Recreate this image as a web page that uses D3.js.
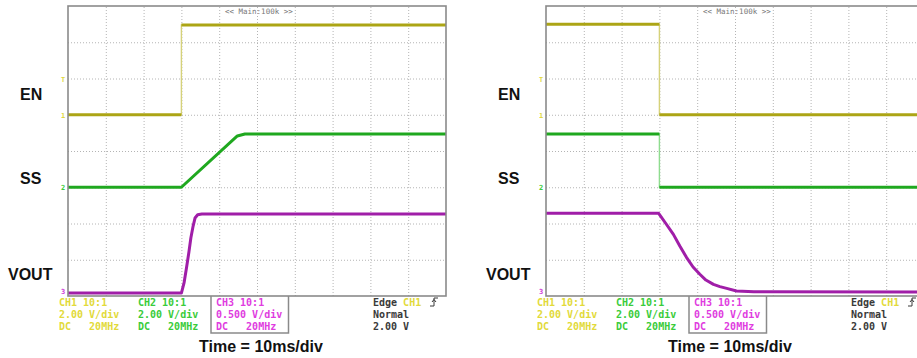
<!DOCTYPE html>
<html>
<head>
<meta charset="utf-8">
<script src="https://cdn.jsdelivr.net/npm/d3@7"></script>
<style>
  body { margin: 0; background: #fff; }
  svg { display: block; }
</style>
</head>
<body>
<script>
// time in ms (10 ms/div), values in volts
const enOnT = [0, 30, 30, 100]
const enOnV = [0, 0, 4.95, 4.95]
const ssOnT = [0, 30, 44.8, 46.8, 100]
const ssOnV = [0, 0, 2.83, 2.94, 2.94]
const voutOnT = [0, 30, 30.7, 31.35, 32, 32.5, 33.1, 33.6, 34.3, 35.4, 100]
const voutOnV = [0.04, 0.04, 0.18, 0.39, 0.61, 0.8, 0.965, 1.075, 1.12, 1.13, 1.13]

const enOffT = [0, 30, 30, 100]
const enOffV = [5, 5, 0, 0]
const ssOffT = [0, 30, 30, 100]
const ssOffV = [2.94, 2.94, 0, 0]
const voutOffT = [0, 29.8, 31.7, 33.7, 35.4, 37.2, 38.9, 40.7, 42.3, 44.3, 46, 47.8, 50.4, 55, 100]
const voutOffV = [1.14, 1.14, 1.0, 0.85, 0.69, 0.53, 0.40, 0.30, 0.22, 0.16, 0.13, 0.105, 0.07, 0.06, 0.055]

const chTitles = ["CH1 10:1", "CH2 10:1", "CH3 10:1"]
const chScales = ["2.00 V/div", "2.00 V/div", "0.500 V/div"]
const chCoupling = ["DC   20MHz", "DC   20MHz", "DC   20MHz"]
const trigLines = ["Edge", "Normal", "2.00 V"]
const signalNames = ["EN", "SS", "VOUT"]
const timeLabel = "Time = 10ms/div"
const headerLabel = "<< Main:100k >>"

const width = 917, height = 358
const plotW = 378, plotH = 290, plotTop = 6

const svg = d3.select("body").append("svg")
    .attr("width", width)
    .attr("height", height)

const panels = [
    { x0: 68, timeX: 261, en: [enOnT, enOnV], ss: [ssOnT, ssOnV], vout: [voutOnT, voutOnV] },
    { x0: 546, timeX: 730, en: [enOffT, enOffV], ss: [ssOffT, ssOffV], vout: [voutOffT, voutOffV] }
]

const mono = "'DejaVu Sans Mono', monospace"
const sans = "'Liberation Sans', Arial, sans-serif"

const drawPanel = (p) => {
    const x = d3.scaleLinear().domain([0, 100]).range([p.x0, p.x0 + plotW])
    const div = d3.scaleLinear().domain([0, 8]).range([plotTop + plotH, plotTop])
    // each channel: ground offset (divs) and volts/div
    const yEN = d3.scaleLinear().domain([-10, 6]).range([plotTop + plotH, plotTop])
    const ySS = d3.scaleLinear().domain([-6, 10]).range([plotTop + plotH, plotTop])
    const yVO = d3.scaleLinear().domain([0, 4]).range([plotTop + plotH, plotTop])

    const g = svg.append('g')

    // dotted grid
    g.append('g')
        .attr('transform', `translate(0,${plotTop + plotH})`)
        .call(d3.axisBottom(x).tickValues(d3.range(10, 100, 10)).tickSize(-plotH).tickFormat(""))
        .call(g => g.select('.domain').remove())
        .call(g => g.selectAll('line').attr('stroke', '#b4b4b4').attr('stroke-dasharray', '1,2'))
    g.append('g')
        .attr('transform', `translate(${p.x0},0)`)
        .call(d3.axisLeft(div).tickValues(d3.range(1, 8)).tickSize(-plotW).tickFormat(""))
        .call(g => g.select('.domain').remove())
        .call(g => g.selectAll('line').attr('stroke', '#b4b4b4').attr('stroke-dasharray', '1,2'))

    // header
    g.append('text')
        .attr('x', p.x0 + 157).attr('y', 14)
        .attr('font-family', mono).attr('font-size', 7.5)
        .attr('fill', '#777')
        .text(headerLabel)

    const traces = [
        { d: p.en, y: yEN, color: '#aca515', light: '#d6d27a' },
        { d: p.ss, y: ySS, color: '#1fa81f', light: '#8fdc8f' },
        { d: p.vout, y: yVO, color: '#a01ea8', light: '#c77fcc' }
    ]

    traces.forEach(tr => {
        const pts = tr.d[0].map((t, i) => ({ t: t, v: tr.d[1][i] }))
        const line = d3.line().x(d => x(d.t)).y(d => tr.y(d.v))
        g.append('path')
            .attr('d', line(pts))
            .attr('fill', 'none')
            .attr('stroke', tr.light)
            .attr('stroke-width', 1.4)
        // thick runs, broken at vertical steps
        const runs = [[pts[0]]]
        for (let i = 1; i < pts.length; i++) {
            if (pts[i].t === pts[i - 1].t) runs.push([pts[i]])
            else runs[runs.length - 1].push(pts[i])
        }
        runs.filter(r => r.length > 1).forEach(r => {
            g.append('path')
                .attr('d', line(r))
                .attr('fill', 'none')
                .attr('stroke', tr.color)
                .attr('stroke-width', 3)
                .attr('stroke-linejoin', 'round')
        })
    })

    // border
    g.append('rect')
        .attr('x', p.x0).attr('y', plotTop)
        .attr('width', plotW).attr('height', plotH)
        .attr('fill', 'none')
        .attr('stroke', '#8a8a8a')
        .attr('stroke-width', 1.6)

    // ground / trigger markers on the left edge
    const markers = [
        { y: yEN(2), txt: 'T', color: '#e0d840' },
        { y: yEN(0), txt: '1', color: '#e0d840' },
        { y: ySS(0), txt: '2', color: '#3ccc3c' },
        { y: yVO(0), txt: '3', color: '#d040d8' }
    ]
    markers.forEach(m => {
        g.append('text')
            .attr('x', p.x0 - 7).attr('y', Math.min(m.y + 3, 293.5))
            .attr('font-family', mono).attr('font-size', 7)
            .attr('font-weight', 'bold')
            .attr('fill', m.color)
            .text(m.txt)
    })

    // signal names
    const nameY = [100, 184, 280]
    const nameX = [-48, -48, -60]
    signalNames.forEach((n, i) => {
        g.append('text')
            .attr('x', p.x0 + nameX[i]).attr('y', nameY[i])
            .attr('font-family', sans).attr('font-weight', 'bold')
            .attr('font-size', 16)
            .attr('fill', '#111')
            .text(n)
    })

    // channel readouts
    const chX = [-9, 70, 148]
    const chColor = ['#e2da3a', '#3acc3a', '#e03ce0']
    chTitles.forEach((c, i) => {
        [c, chScales[i], chCoupling[i]].forEach((s, j) => {
            g.append('text')
                .attr('x', p.x0 + chX[i]).attr('y', 306 + j * 12)
                .attr('font-family', mono).attr('font-size', 10)
                .attr('font-weight', 'bold')
                .attr('fill', chColor[i])
                .style('white-space', 'pre')
                .text(s)
        })
    })
    g.append('path')
        .attr('d', `M${p.x0 + 143},${plotTop + plotH} V333 H${p.x0 + 220.5} V${plotTop + plotH}`)
        .attr('fill', 'none')
        .attr('stroke', '#8a8a8a')
        .attr('stroke-width', 1.5)

    // trigger readout
    trigLines.forEach((s, j) => {
        const t = g.append('text')
            .attr('x', p.x0 + 305).attr('y', 306 + j * 12)
            .attr('font-family', mono).attr('font-size', 10)
            .attr('font-weight', 'bold')
            .attr('fill', '#3a3a3a')
            .style('white-space', 'pre')
            .text(s)
        if (j === 0) t.append('tspan').attr('fill', '#e2da3a').text(' CH1')
    })
    const tx = p.x0 + 362
    g.append('path')
        .attr('d', `M${tx},306 H${tx + 4} V298 H${tx + 8} M${tx + 2},302 L${tx + 4},299.5 L${tx + 6},302`)
        .attr('fill', 'none')
        .attr('stroke', '#3a3a3a')
        .attr('stroke-width', 1)

    // time label
    g.append('text')
        .attr('x', p.timeX).attr('y', 352)
        .attr('text-anchor', 'middle')
        .attr('font-family', sans).attr('font-weight', 'bold')
        .attr('font-size', 16)
        .attr('fill', '#111')
        .text(timeLabel)
}

panels.forEach(drawPanel)
</script>
</body>
</html>
